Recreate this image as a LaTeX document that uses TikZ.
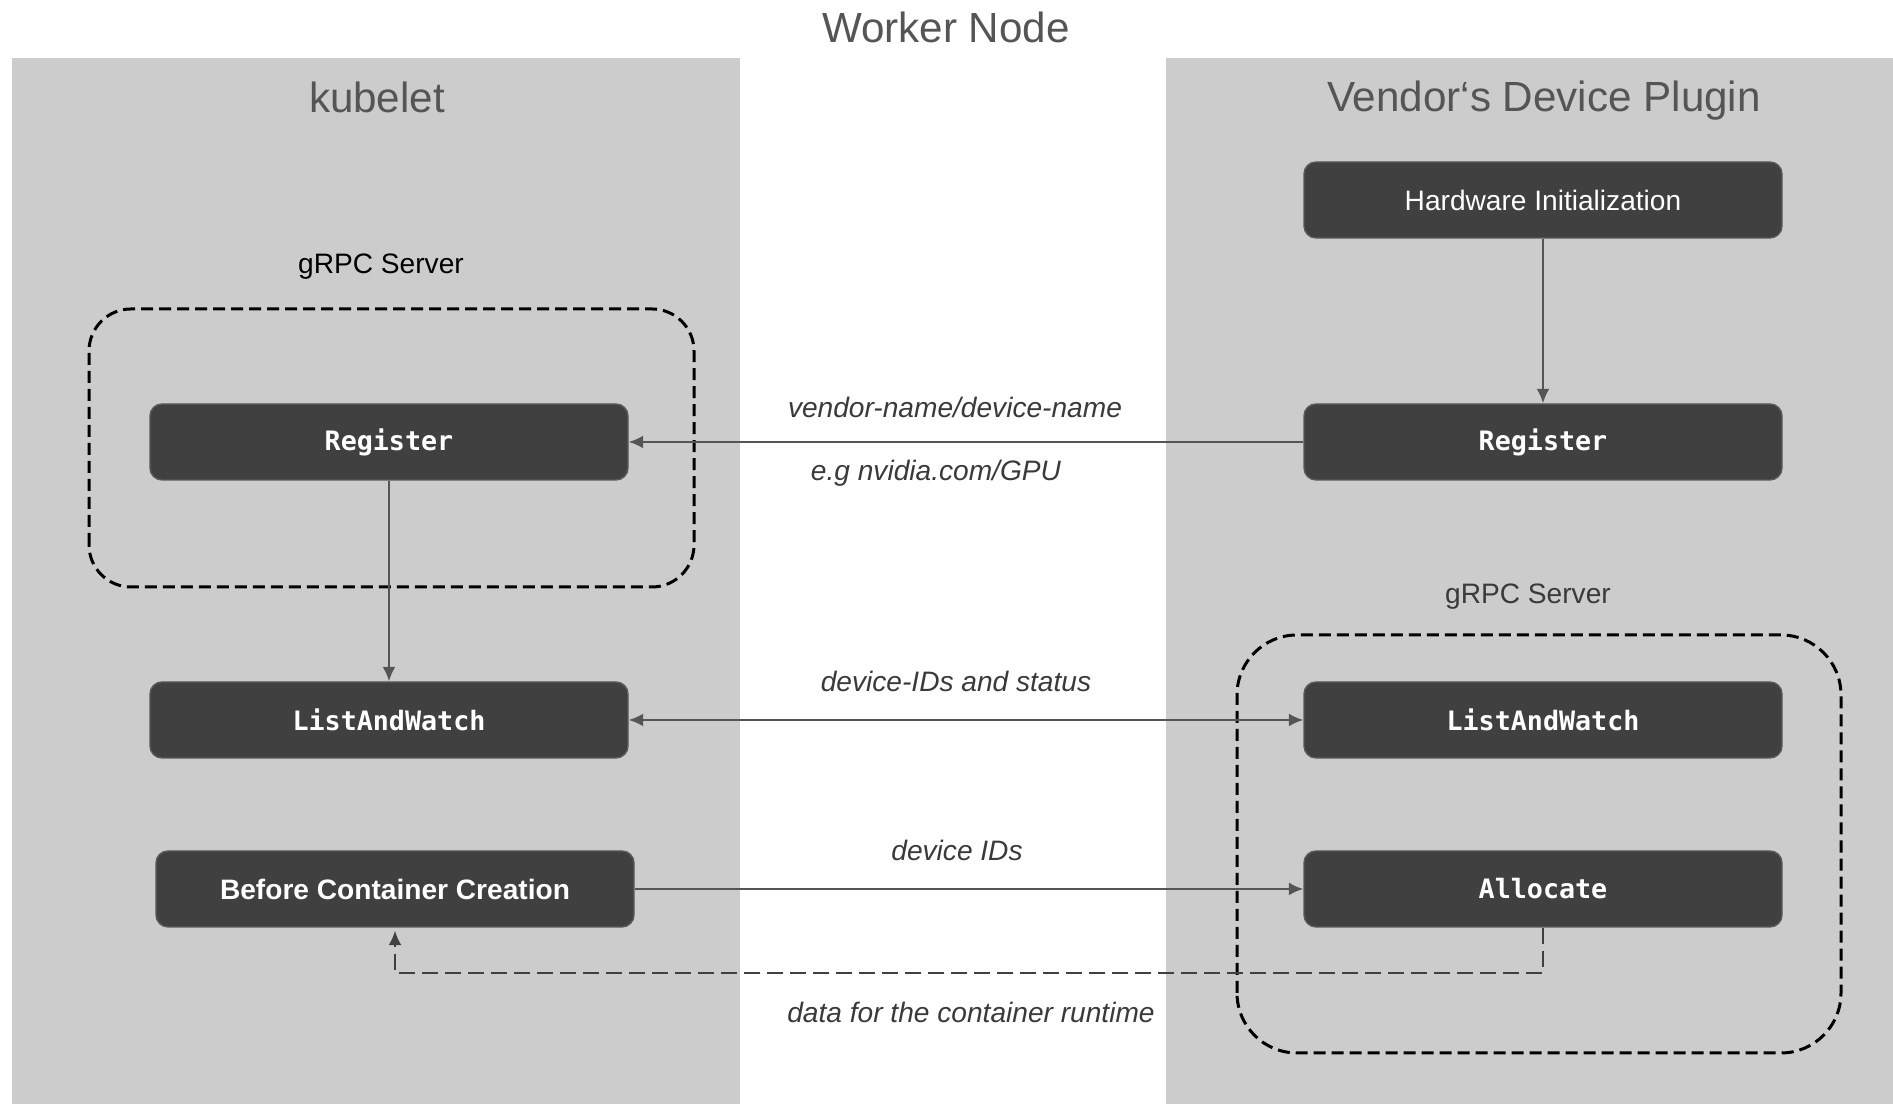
\documentclass[tikz,border=0pt]{standalone}
\usepackage{fontspec}
\setmainfont{Liberation Sans}
\newfontfamily\codefont{DejaVu Sans Mono}
\usepackage{tikz}
\usetikzlibrary{arrows.meta,calc,positioning}
\usepackage{xcolor}
\definecolor{panelgray}{HTML}{CCCCCC}
\definecolor{boxdark}{HTML}{404040}
\definecolor{boxedge}{HTML}{5A5A5A}
\definecolor{headgray}{HTML}{555555}
\definecolor{linkgray}{HTML}{555555}
\definecolor{notegray}{HTML}{3A3A3A}

\begin{document}
\begin{tikzpicture}[
  >={Latex[length=1.45mm,width=1.3mm]},
  title/.style={text=headgray,font=\large},
  call/.style={draw=boxedge,fill=boxdark,rounded corners=1.2mm,text=white,
    minimum width=47.8mm,minimum height=7.6mm,inner sep=0pt,
    font=\codefont\bfseries\fontsize{7.6}{9}\selectfont},
  task/.style={call,font=\fontsize{8}{10}\selectfont},
  server/.style={draw=black,line width=0.3mm,dash pattern=on 1.2mm off 0.6mm},
  note/.style={text=notegray,font=\itshape\footnotesize},
  flow/.style={->,linkgray,line width=0.2mm},
  reply/.style={flow,draw=boxdark,line width=0.22mm,dash pattern=on 1.65mm off 0.65mm}
]
\useasboundingbox (0,0) rectangle (18.93,11.04);
\fill[white] (0,0) rectangle (18.93,11.04);

% the two processes on the node
\fill[panelgray] (0.12,0) rectangle (7.40,10.46);
\fill[panelgray] (11.66,0) rectangle (18.93,10.46);
\node[title] (node) at (9.46,10.77) {Worker Node};
\node[title] (kubelet) at (3.77,10.07) {kubelet};
\node[title] (plugin) at (15.44,10.03) {Vendor‘s Device Plugin};

% gRPC servers
\draw[server,rounded corners=4.2mm] (0.89,5.17) rectangle (6.94,7.95);
\draw[server,rounded corners=6mm] (12.37,0.51) rectangle (18.41,4.69);
\node[font=\footnotesize] (ksrv) at (3.81,8.37) {gRPC Server};
\node[font=\footnotesize,text=notegray] (psrv) at (15.28,5.07) {gRPC Server};

% kubelet side
\node[call] (kreg) at (3.89,6.62) {Register};
\node[call] (klist) at (3.89,3.84) {ListAndWatch};
\node[task,font=\bfseries\fontsize{8}{10}\selectfont] (before) at (3.95,2.15)
  {Before Container Creation};

% plugin side
\node[task] (hw) at (15.43,9.04) {Hardware Initialization};
\node[call] (preg) at (15.43,6.62) {Register};
\node[call] (plist) at (15.43,3.84) {ListAndWatch};
\node[call] (alloc) at (15.43,2.15) {Allocate};

% messages
\draw[flow] (hw) -- (preg);
\draw[flow] (preg) -- (kreg);
\draw[flow] (kreg) -- (klist);
\draw[flow,<->] (klist) -- (plist);
\draw[flow] (before) -- (alloc);
\coordinate (back) at (0,1.31);
\draw[reply,shorten >=0.3mm] (alloc.south) -- (alloc.south |- back)
  -- (before.south |- back) -- (before.south);

\node[note] (regname) at (9.55,6.97) {vendor-name/device-name};
\node[note] (regex) at (9.36,6.31) {e.g nvidia.com/GPU};
\node[note] (listlab) at (9.56,4.23) {device-IDs and status};
\node[note] (alloclab) at (9.57,2.54) {device IDs};
\node[note] (backlab) at (9.71,0.92) {data for the container runtime};
\end{tikzpicture}
\end{document}
